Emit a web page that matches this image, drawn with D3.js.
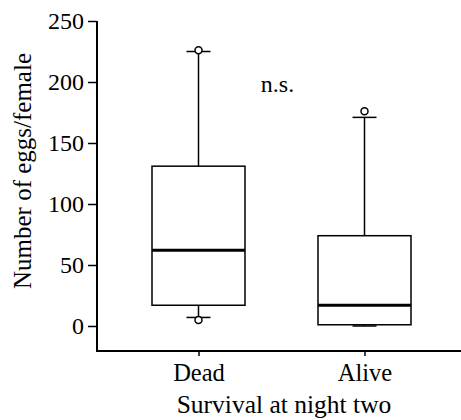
<!DOCTYPE html>
<html>
<head>
<meta charset="utf-8">
<script src="https://cdn.jsdelivr.net/npm/d3@7"></script>
<style>
  body { margin: 0; background: #fff; }
  svg text { font-family: "Liberation Serif", "Times New Roman", serif; fill: #000; }
</style>
</head>
<body>
<svg id="chart" width="461" height="420"></svg>
<script>
// dades de la figura
var categories = ["Dead", "Alive"];
var whiskerLow = [7, 0];
var quartile1 = [17, 1];
var medians = [62, 17];
var quartile3 = [131, 74];
var whiskerHigh = [225, 171];
var outliers = [[226, 5], [176]];
var yTicks = [0, 50, 100, 150, 200, 250];

function dibuixar() {
    var svg = d3.select("#chart");
    var mLeft = 97, mRight = 461, mTop = 21, mBottom = 351;

    var x = d3.scalePoint().domain(categories).range([198.5, 364.5]);
    var y = d3.scaleLinear().domain([-20.5, 250]).range([mBottom, mTop]);

    // eixos
    var gy = svg.append("g")
        .attr("transform", `translate(${mLeft},0)`)
        .call(d3.axisLeft(y).tickValues(yTicks).tickSize(9).tickPadding(4).tickSizeOuter(0));
    gy.attr("font-family", null);
    gy.select(".domain").remove();
    gy.selectAll(".tick line").attr("stroke", "#000").attr("stroke-width", 1.5);
    gy.selectAll(".tick text").style("font-size", "24px").attr("dy", "0.33em");

    var gx = svg.append("g")
        .attr("transform", `translate(0,${mBottom})`)
        .call(d3.axisBottom(x).tickSize(5).tickPadding(8).tickSizeOuter(0));
    gx.attr("font-family", null);
    gx.select(".domain").remove();
    gx.selectAll(".tick line").attr("stroke", "#000").attr("stroke-width", 1.5);
    gx.selectAll(".tick text").style("font-size", "24.5px");

    svg.append("line").attr("x1", mLeft).attr("x2", mLeft).attr("y1", y(250)).attr("y2", mBottom + 1)
        .attr("stroke", "#000").attr("stroke-width", 2);
    svg.append("line").attr("x1", mLeft - 1).attr("x2", mRight).attr("y1", mBottom).attr("y2", mBottom)
        .attr("stroke", "#000").attr("stroke-width", 2);

    // caixes
    var boxW = 93, capW = 24;
    categories.forEach(function (c, i) {
        var cx = x(c);
        var g = svg.append("g").attr("stroke", "#000").attr("fill", "none");
        g.append("line").attr("x1", cx).attr("x2", cx).attr("y1", y(quartile3[i])).attr("y2", y(whiskerHigh[i])).attr("stroke-width", 1.5);
        g.append("line").attr("x1", cx).attr("x2", cx).attr("y1", y(quartile1[i])).attr("y2", y(whiskerLow[i])).attr("stroke-width", 1.5);
        g.append("line").attr("x1", cx - capW / 2).attr("x2", cx + capW / 2).attr("y1", y(whiskerHigh[i])).attr("y2", y(whiskerHigh[i])).attr("stroke-width", 1.5);
        g.append("line").attr("x1", cx - capW / 2).attr("x2", cx + capW / 2).attr("y1", y(whiskerLow[i])).attr("y2", y(whiskerLow[i])).attr("stroke-width", 1.5);
        g.append("rect").attr("x", cx - boxW / 2).attr("width", boxW)
            .attr("y", y(quartile3[i])).attr("height", y(quartile1[i]) - y(quartile3[i]))
            .attr("stroke-width", 1.5);
        g.append("line").attr("x1", cx - boxW / 2).attr("x2", cx + boxW / 2).attr("y1", y(medians[i])).attr("y2", y(medians[i])).attr("stroke-width", 3);
        outliers[i].forEach(function (v) {
            g.append("circle").attr("cx", cx).attr("cy", y(v)).attr("r", 3.5)
                .attr("fill", "#fff").attr("stroke-width", 1.5);
        });
    });

    // textos
    svg.append("text").attr("x", 277.5).attr("y", 92).attr("text-anchor", "middle")
        .style("font-size", "24px").text("n.s.");
    svg.append("text").attr("x", 284).attr("y", 413).attr("text-anchor", "middle")
        .style("font-size", "25.5px").text("Survival at night two");
    svg.append("text").attr("transform", "translate(31,171) rotate(-90)").attr("text-anchor", "middle")
        .style("font-size", "25px").text("Number of eggs/female");
}

dibuixar();
</script>
</body>
</html>
